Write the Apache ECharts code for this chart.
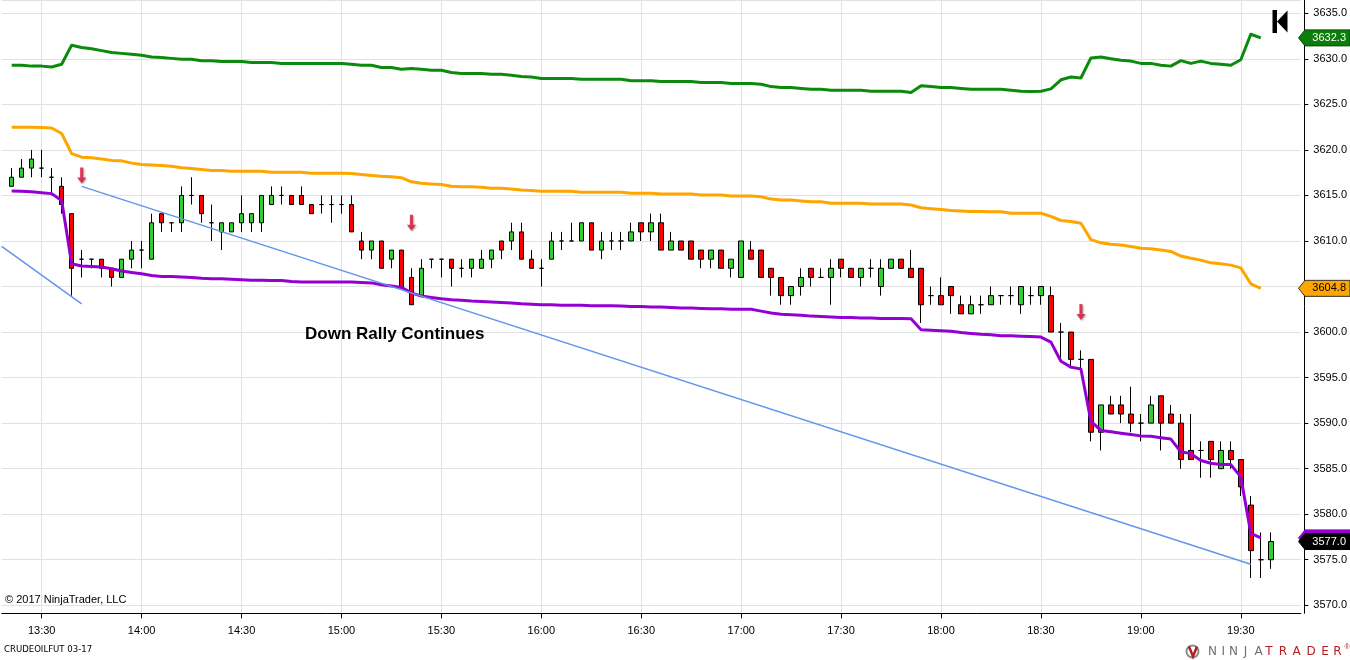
<!DOCTYPE html>
<html>
<head>
<meta charset="utf-8">
<script src="https://cdn.jsdelivr.net/npm/echarts@6/dist/echarts.min.js"></script>
<style>
  body, html { margin: 0; padding: 0; width: 100%; height: 100%; overflow: hidden; background: #fff; }
  #chart { width: 1350px; height: 660px; }
</style>
</head>
<body>
<div id="chart"></div>
<script>
// 3-minute bars, 13:18 .. 19:48 (first slot left empty)
var times = [];
for (var m = 13 * 60 + 18; m <= 19 * 60 + 48; m += 3) {
  times.push(String(Math.floor(m / 60)).padStart(2, '0') + ':' + String(m % 60).padStart(2, '0'));
}

// [open, close, low, high], bar 13:21 .. 19:39
var candles = [
  [3616,3617,3616,3618],[3617,3618,3617,3619],[3618,3619,3617,3620],[3618,3618,3617,3620],
  [3617,3617,3615,3618],[3616,3614,3613,3617],[3613,3607,3604,3613],[3608,3608,3606,3609],
  [3608,3608,3607,3608],[3608,3607,3606,3608],[3607,3606,3605,3607],[3606,3608,3606,3608],
  [3608,3609,3607,3610],[3609,3609,3607,3610],[3608,3612,3608,3613],[3613,3612,3611,3613],
  [3612,3612,3611,3612],[3612,3615,3611,3616],[3615,3615,3614,3617],[3615,3613,3612,3615],
  [3612,3612,3610,3614],[3611,3612,3609,3612],[3611,3612,3611,3612],[3612,3613,3611,3615],
  [3612,3613,3611,3613],[3612,3615,3611,3615],[3614,3615,3614,3616],[3615,3615,3614,3616],
  [3615,3614,3614,3615],[3615,3614,3614,3616],[3614,3613,3613,3614],[3614,3614,3613,3615],
  [3614,3614,3612,3615],[3614,3614,3613,3615],[3614,3611,3611,3615],[3610,3609,3608,3611],
  [3609,3610,3608,3610],[3610,3607,3607,3610],[3608,3609,3607,3609],[3609,3605,3605,3609],
  [3606,3603,3603,3607],[3604,3607,3604,3608],[3608,3608,3607,3608],[3608,3608,3606,3608],
  [3608,3607,3605,3608],[3607,3607,3606,3608],[3607,3608,3606,3608],[3607,3608,3607,3609],
  [3608,3609,3607,3609],[3610,3609,3608,3610],[3610,3611,3609,3612],[3611,3608,3608,3612],
  [3608,3607,3607,3609],[3607,3607,3605,3608],[3608,3610,3608,3611],[3610,3610,3609,3611],
  [3610,3610,3610,3612],[3610,3612,3610,3612],[3612,3609,3609,3612],[3609,3610,3608,3611],
  [3610,3610,3609,3611],[3610,3610,3609,3611],[3610,3611,3610,3612],[3612,3611,3610,3612],
  [3611,3612,3610,3613],[3612,3609,3609,3613],[3609,3610,3609,3611],[3610,3609,3609,3610],
  [3610,3608,3608,3610],[3609,3608,3607,3609],[3608,3609,3607,3609],[3609,3607,3607,3609],
  [3607,3608,3606,3608],[3606,3610,3606,3610],[3609,3608,3608,3610],[3609,3606,3606,3609],
  [3607,3606,3604,3607],[3606,3604,3603,3606],[3604,3605,3603,3605],[3605,3606,3604,3607],
  [3607,3606,3605,3607],[3606,3606,3606,3607],[3606,3607,3603,3608],[3608,3607,3606,3608],
  [3607,3606,3606,3607],[3606,3607,3605,3607],[3607,3607,3606,3608],[3605,3607,3604,3608],
  [3607,3608,3607,3608],[3608,3607,3607,3608],[3607,3606,3606,3609],[3607,3603,3601,3607],
  [3604,3604,3603,3605],[3604,3603,3603,3606],[3605,3604,3602,3605],[3603,3602,3602,3604],
  [3602,3603,3602,3604],[3603,3603,3602,3604],[3603,3604,3603,3605],[3604,3604,3603,3604],
  [3604,3604,3603,3605],[3603,3605,3602,3605],[3604,3604,3603,3605],[3604,3605,3603,3605],
  [3604,3600,3600,3605],[3600,3600,3597,3601],[3600,3597,3596,3600],[3597,3597,3596,3598],
  [3597,3589,3588,3597],[3589,3592,3587,3592],[3592,3591,3591,3593],[3592,3591,3590,3593],
  [3591,3590,3589,3594],[3590,3590,3588,3591],[3590,3592,3590,3593],[3593,3590,3587,3593],
  [3591,3590,3590,3592],[3590,3586,3585,3591],[3587,3586,3586,3591],[3587,3587,3584,3588],
  [3588,3586,3584,3588],[3585,3587,3585,3588],[3587,3586,3585,3588],[3586,3583,3582,3586],
  [3581,3576,3573,3582],[3575,3575,3573,3578],[3575,3577,3574,3578]
];

var upperBand = [
  3629.3,3629.3,3629.2,3629.2,3629.1,3629.4,3631.5,3631.25,3631.1,3630.9,
  3630.7,3630.6,3630.5,3630.4,3630.2,3630.15,3630.05,3629.95,3629.95,3629.8,
  3629.8,3629.7,3629.7,3629.7,3629.6,3629.6,3629.6,3629.5,3629.5,3629.5,
  3629.5,3629.5,3629.5,3629.5,3629.4,3629.3,3629.3,3629.05,3629.05,3628.85,
  3628.95,3628.85,3628.75,3628.75,3628.5,3628.4,3628.4,3628.4,3628.3,3628.3,
  3628.2,3628.05,3628.0,3627.85,3627.85,3627.85,3627.85,3627.75,3627.75,3627.75,
  3627.75,3627.75,3627.6,3627.6,3627.6,3627.5,3627.5,3627.5,3627.5,3627.4,
  3627.4,3627.4,3627.3,3627.3,3627.3,3627.2,3626.95,3626.85,3626.85,3626.75,
  3626.65,3626.65,3626.55,3626.55,3626.55,3626.55,3626.45,3626.45,3626.45,3626.45,
  3626.3,3627.05,3626.95,3626.85,3626.85,3626.75,3626.65,3626.65,3626.65,3626.65,
  3626.55,3626.45,3626.4,3626.45,3626.7,3627.7,3628.0,3627.9,3630.1,3630.2,
  3630.0,3629.85,3629.75,3629.5,3629.5,3629.3,3629.2,3629.8,3629.5,3629.75,
  3629.5,3629.4,3629.3,3629.9,3632.7,3632.3
];

var midBand = [
  3622.5,3622.5,3622.5,3622.45,3622.4,3621.8,3619.6,3619.2,3619.15,3619.0,
  3618.85,3618.8,3618.55,3618.4,3618.35,3618.3,3618.2,3618.05,3617.95,3617.85,
  3617.75,3617.75,3617.65,3617.65,3617.65,3617.65,3617.55,3617.55,3617.55,3617.55,
  3617.45,3617.45,3617.45,3617.45,3617.4,3617.3,3617.2,3617.1,3617.05,3616.95,
  3616.5,3616.35,3616.25,3616.2,3616.0,3615.95,3615.95,3615.9,3615.8,3615.8,
  3615.7,3615.6,3615.55,3615.45,3615.45,3615.45,3615.45,3615.35,3615.35,3615.35,
  3615.35,3615.35,3615.25,3615.25,3615.25,3615.15,3615.15,3615.15,3615.15,3615.05,
  3615.05,3615.05,3614.95,3614.95,3614.95,3614.85,3614.6,3614.5,3614.5,3614.4,
  3614.3,3614.3,3614.15,3614.15,3614.15,3614.15,3614.05,3614.05,3614.05,3614.05,
  3613.95,3613.65,3613.55,3613.45,3613.35,3613.3,3613.25,3613.25,3613.2,3613.2,
  3613.05,3613.05,3613.05,3613.05,3612.7,3612.25,3612.15,3611.95,3610.15,3609.8,
  3609.65,3609.55,3609.4,3609.2,3609.15,3609.0,3608.85,3608.35,3608.1,3607.9,
  3607.6,3607.5,3607.35,3607.05,3605.3,3604.8
];

var lowerBand = [
  3615.5,3615.45,3615.4,3615.3,3615.2,3614.45,3607.5,3607.25,3607.2,3607.15,
  3606.95,3606.7,3606.55,3606.4,3606.2,3606.1,3606.1,3606.05,3606.0,3605.9,
  3605.85,3605.85,3605.8,3605.75,3605.7,3605.7,3605.65,3605.65,3605.55,3605.5,
  3605.5,3605.5,3605.5,3605.5,3605.5,3605.45,3605.4,3605.2,3605.05,3604.9,
  3604.3,3603.95,3603.8,3603.65,3603.55,3603.5,3603.4,3603.35,3603.3,3603.25,
  3603.2,3603.1,3603.05,3603.0,3603.0,3602.95,3602.95,3602.95,3602.9,3602.9,
  3602.9,3602.85,3602.8,3602.8,3602.75,3602.75,3602.7,3602.65,3602.65,3602.6,
  3602.55,3602.55,3602.5,3602.5,3602.5,3602.3,3602.1,3601.95,3601.9,3601.85,
  3601.75,3601.7,3601.65,3601.6,3601.6,3601.55,3601.55,3601.5,3601.5,3601.5,
  3601.45,3600.25,3600.2,3600.15,3600.1,3599.95,3599.85,3599.75,3599.7,3599.6,
  3599.6,3599.55,3599.5,3599.45,3598.9,3596.8,3596.15,3595.95,3590.2,3589.2,
  3589.05,3588.9,3588.75,3588.6,3588.55,3588.4,3588.25,3586.85,3586.65,3585.9,
  3585.6,3585.45,3585.45,3584.1,3577.9,3577.4
];

// drawn trend lines: [category index, price]
var trendA = [[0, 3609.4], [8, 3603.1]];
var trendB = [[8, 3616.0], [125, 3574.5]];
// signal arrows
var arrows = [[8, 3617.2], [41, 3612.0], [108, 3602.2]];

var yTop = 3636.46, yBottom = 3569.12;
var FONT = '"Liberation Sans", Arial, sans-serif';

function isHalfHour(idx, val) {
  return /:(00|30)$/.test(val);
}

var pad = function (arr) { return ['-'].concat(arr); };

var chart = echarts.init(document.getElementById('chart'));
chart.setOption({
  animation: false,
  backgroundColor: '#fff',
  grid: { left: 1.7, right: 48.3, top: 0, bottom: 46.7 },
  xAxis: {
    type: 'category',
    data: times,
    boundaryGap: false,
    axisLine: { lineStyle: { color: '#000', width: 1 } },
    axisTick: { interval: isHalfHour, length: 5, lineStyle: { color: '#000' } },
    axisLabel: { interval: isHalfHour, color: '#000', fontSize: 11, fontFamily: FONT, margin: 12 },
    splitLine: { show: true, interval: isHalfHour, lineStyle: { color: '#e1e1e1', width: 1 } }
  },
  yAxis: {
    type: 'value',
    position: 'right',
    offset: 3.6,
    min: yBottom,
    max: yTop,
    minInterval: 5,
    maxInterval: 5,
    scale: true,
    axisLine: { show: true, lineStyle: { color: '#000', width: 1 } },
    axisTick: { show: true, length: 4, lineStyle: { color: '#000' } },
    axisLabel: {
      color: '#000', fontSize: 11, fontFamily: FONT, margin: 9,
      showMinLabel: false, showMaxLabel: false,
      formatter: function (v) { return v.toFixed(1); }
    },
    splitLine: { show: true, lineStyle: { color: '#e1e1e1', width: 1 } }
  },
  series: [
    {
      type: 'candlestick',
      data: [['-', '-', '-', '-']].concat(candles),
      barWidth: 5,
      itemStyle: {
        color: '#32cd32', color0: '#ff0000',
        borderColor: '#000', borderColor0: '#000', borderColorDoji: '#000',
        borderWidth: 1
      }
    },
    {
      type: 'line', data: pad(upperBand), showSymbol: false, symbol: 'none',
      lineStyle: { color: '#0b8a0b', width: 3, join: 'round' }
    },
    {
      type: 'line', data: pad(midBand), showSymbol: false, symbol: 'none',
      lineStyle: { color: '#ffa500', width: 3, join: 'round' }
    },
    {
      type: 'line', data: pad(lowerBand), showSymbol: false, symbol: 'none',
      lineStyle: { color: '#9400d3', width: 3, join: 'round' }
    },
    {
      type: 'line', data: trendA, showSymbol: false, symbol: 'none',
      lineStyle: { color: '#6495ed', width: 1.5 }
    },
    {
      type: 'line', data: trendB, showSymbol: false, symbol: 'none',
      lineStyle: { color: '#6495ed', width: 1.5 }
    },
    {
      type: 'scatter', data: arrows,
      symbol: 'path://M3,0 L6,0 L6,10 L9,10 L4.5,16 L0,10 L3,10 Z',
      symbolSize: [9, 16],
      itemStyle: { color: '#dc143c', shadowColor: 'rgba(0,0,0,0.45)', shadowBlur: 2, shadowOffsetX: 1, shadowOffsetY: 1 }
    }
  ]
});

// price tags on the right axis
function tag(value, fill, textColor, stroke, showText) {
  var y = chart.convertToPixel({ yAxisIndex: 0 }, value);
  var children = [
    { type: 'polygon', z: 100,
      shape: { points: [[1298.5, y], [1305, y - 8], [1350, y - 8], [1350, y + 8], [1305, y + 8]] },
      style: { fill: fill, stroke: stroke, lineWidth: 1 } }
  ];
  if (showText !== false) {
    children.push({ type: 'text', z: 101, x: 1346, y: y,
      style: { text: value.toFixed(1), fill: textColor, font: '11px ' + FONT, textAlign: 'right', textVerticalAlign: 'middle' } });
  }
  return { type: 'group', z: 100, children: children };
}

var lastClose = candles[candles.length - 1][1];
var logoLetters = [
  ['N', 1212.5, '#707070'], ['I', 1223.3, '#707070'], ['N', 1233.5, '#707070'], ['J', 1245.5, '#707070'], ['A', 1258.7, '#707070'],
  ['T', 1269, '#b51f24'], ['R', 1283, '#b51f24'], ['A', 1296.5, '#b51f24'], ['D', 1311, '#b51f24'], ['E', 1325, '#b51f24'], ['R', 1337.5, '#b51f24']
];

var graphics = [
  tag(upperBand[upperBand.length - 1], '#0b7d0b', '#fff', '#064d06'),
  tag(midBand[midBand.length - 1], '#ffa500', '#000', '#333'),
  tag(lowerBand[lowerBand.length - 1], '#9400d3', '#fff', '#9400d3', false),
  tag(lastClose, '#000', '#fff', '#000'),
  // "go to last bar" icon
  { type: 'rect', z: 100, shape: { x: 1272.5, y: 10, width: 4.5, height: 23 }, style: { fill: '#000' } },
  { type: 'polygon', z: 100, shape: { points: [[1277, 21.5], [1287.5, 10.5], [1287.5, 32.5]] }, style: { fill: '#000' } },
  { type: 'text', z: 100, x: 305, y: 334,
    style: { text: 'Down Rally Continues', fill: '#000', font: 'bold 17px ' + FONT, textVerticalAlign: 'middle' } },
  { type: 'text', z: 100, x: 5, y: 600,
    style: { text: '\u00a9 2017 NinjaTrader, LLC', fill: '#000', font: '11px ' + FONT, textVerticalAlign: 'middle' } },
  { type: 'text', z: 100, x: 4, y: 650,
    style: { text: 'CRUDEOILFUT 03-17', fill: '#000', font: '9.5px "Liberation Sans Narrow", "DejaVu Sans Condensed", sans-serif', textVerticalAlign: 'middle' } },
  // logo mark
  { type: 'circle', z: 100, shape: { cx: 1192.5, cy: 651.5, r: 6 }, style: { fill: 'none', stroke: '#8c8c8c', lineWidth: 2 } },
  { type: 'polyline', z: 101, shape: { points: [[1189, 646.5], [1193, 656.5], [1197, 646.5]] }, style: { stroke: '#b51f24', lineWidth: 2.5, fill: 'none' } },
  { type: 'text', z: 100, x: 1347, y: 647,
    style: { text: '\u00ae', fill: '#b51f24', font: '7px ' + FONT, textAlign: 'center', textVerticalAlign: 'middle' } }
];
logoLetters.forEach(function (l) {
  graphics.push({ type: 'text', z: 100, x: l[1], y: 651.5,
    style: { text: l[0], fill: l[2], font: '12px "DejaVu Sans", sans-serif', textAlign: 'center', textVerticalAlign: 'middle' } });
});

chart.setOption({ graphic: graphics });
</script>
</body>
</html>
